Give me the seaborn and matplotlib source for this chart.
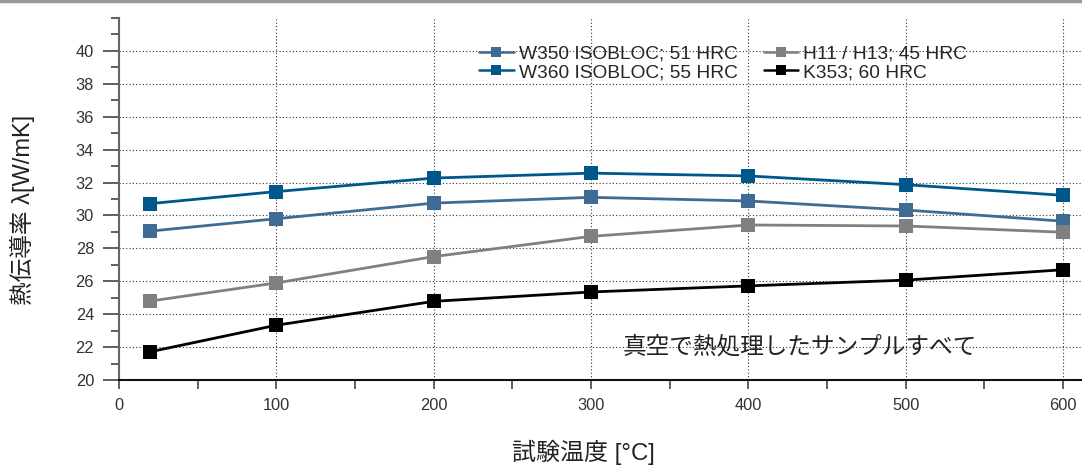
import seaborn as sns
import matplotlib.pyplot as plt
import pandas as pd
from matplotlib.lines import Line2D
from matplotlib.ticker import MultipleLocator

# data
temps = [20, 100, 200, 300, 400, 500, 600]
w350 = [29.05, 29.8, 30.75, 31.1, 30.88, 30.33, 29.65]
w360 = [30.72, 31.45, 32.27, 32.57, 32.4, 31.87, 31.22]
h11 = [24.8, 25.9, 27.5, 28.73, 29.42, 29.36, 28.98]
k353 = [21.72, 23.33, 24.78, 25.35, 25.72, 26.07, 26.7]

labels = ['W350 ISOBLOC; 51 HRC', 'W360 ISOBLOC; 55 HRC', 'H11 / H13; 45 HRC', 'K353; 60 HRC']
colors = ['#3e6c95', '#00578a', '#808080', '#000000']

df = pd.DataFrame({'temp': temps * 4,
                   'value': w350 + w360 + h11 + k353,
                   'grade': [l for l in labels for _ in temps]})

sns.set_style('white')
plt.rcParams['font.family'] = ['Liberation Sans', 'Noto Sans CJK JP', 'DejaVu Sans']

fig = plt.figure(figsize=(10.82, 4.66), dpi=100)
ax = fig.add_axes([0.110, 0.1845, 0.890, 0.777])

sns.lineplot(data=df, x='temp', y='value', hue='grade', hue_order=labels,
             palette=colors, marker='s', markersize=9.5, markeredgewidth=0,
             linewidth=2, ax=ax, legend=False)

ax.set_xlim(0, 612)
ax.set_ylim(20, 42)
ax.xaxis.set_major_locator(MultipleLocator(100))
ax.xaxis.set_minor_locator(MultipleLocator(50))
ax.yaxis.set_major_locator(MultipleLocator(2))
ax.yaxis.set_minor_locator(MultipleLocator(1))
ax.set_yticks(range(20, 42, 2))
ax.grid(True, which='major', linestyle=(0, (1, 2)), color='#333333', linewidth=0.8)
ax.tick_params(which='both', direction='out', color='#444444', width=1.2,
               bottom=True, left=True, labelsize=11.8, labelcolor='#333333')
ax.tick_params(axis='y', which='major', length=11.5, pad=6.5)
ax.tick_params(axis='y', which='minor', length=5.8)
ax.tick_params(axis='x', which='both', length=6.5, pad=6.5)
for s in ['top', 'right']:
    ax.spines[s].set_visible(False)
ax.spines['left'].set_color('#666666')
ax.spines['left'].set_linewidth(1.5)
ax.spines['bottom'].set_color('#111111')
ax.spines['bottom'].set_linewidth(1.5)

ax.set_xlabel('試験温度 [°C]', fontsize=17.3, color='#222222')
ax.set_ylabel('熱伝導率 λ[W/mK]', fontsize=17, color='#222222')
ax.xaxis.set_label_coords(0.482, -0.165)
ax.yaxis.set_label_coords(-0.087, 0.47)

handles = [Line2D([0], [0], color=c, marker='s', markersize=7.5, markeredgewidth=0, linewidth=1.8)
           for c in colors]
ax.legend(handles, labels, ncol=2, loc='upper left', bbox_to_anchor=(0.356, 0.972),
          frameon=False, fontsize=13.8, handlelength=1.8, handletextpad=0.26,
          columnspacing=1.36, labelspacing=0.05)

ax.text(0.707, 0.09, '真空で熱処理したサンプルすべて', transform=ax.transAxes,
        ha='center', va='center', fontsize=17, color='#222222')

fig.add_artist(Line2D([0, 1], [0.997, 0.997], color='#999999', linewidth=2.5,
                      transform=fig.transFigure))

fig.savefig('out.png', dpi=100)
